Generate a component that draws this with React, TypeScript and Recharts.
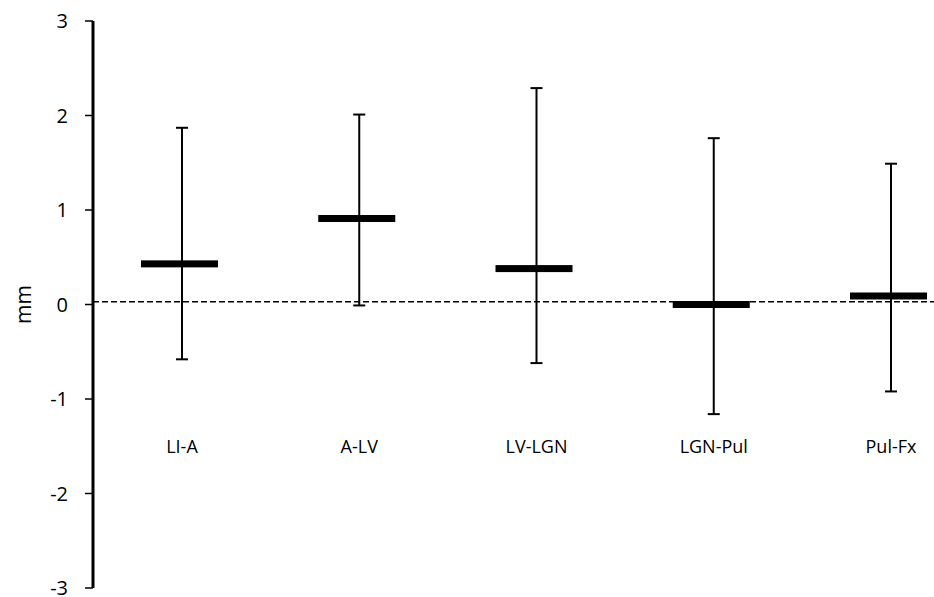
import React from 'react';
import { ComposedChart, Scatter, XAxis, YAxis, ErrorBar, ReferenceLine } from 'recharts';

const categories = ['LI-A', 'A-LV', 'LV-LGN', 'LGN-Pul', 'Pul-Fx'];
const means = [0.43, 0.91, 0.38, 0.0, 0.09];
const upper = [1.87, 2.01, 2.29, 1.76, 1.49];
const lower = [-0.58, -0.01, -0.62, -1.16, -0.92];
const yTicks = [-3, -2, -1, 0, 1, 2, 3];
const refValue = 0.03;

const data = categories.map((c, i) => ({
  name: c,
  mean: means[i],
  err: [means[i] - lower[i], upper[i] - means[i]],
}));

const FONT = '"Open Sans", sans-serif';

const MeanBar = (props: any) => {
  const { cx, cy } = props;
  if (cx == null || cy == null) return null;
  return <rect x={cx - 41} y={cy - 3.5} width={77} height={7} fill="#000" />;
};

const CatTick = (props: any) => {
  const { x, y, payload } = props;
  return (
    <text x={x} y={y - 142} textAnchor="middle" dominantBaseline="central" fontFamily={FONT} fontSize={18} fill="#000">
      {payload.value}
    </text>
  );
};

const YLabel = (props: any) => {
  const vb = props.viewBox || {};
  const x = (vb.x ?? 0) + 23;
  const y = (vb.y ?? 0) + (vb.height ?? 0) / 2;
  return (
    <text x={x} y={y} textAnchor="middle" dominantBaseline="central" transform={`rotate(-90, ${x}, ${y})`} fontFamily={FONT} fontSize={21} fill="#000">
      mm
    </text>
  );
};

export default function App() {
  return (
    <div style={{ position: 'absolute', left: 0, top: 0, width: 934, height: 597, overflow: 'hidden', background: '#fff' }}>
      <ComposedChart width={980} height={597} data={data} margin={{ top: 21, right: 0, bottom: 0, left: 0 }}>
        <XAxis dataKey="name" type="category" height={9} padding={{ left: 89, right: 89 }} axisLine={false} tickLine={false} tickSize={0} tickMargin={0} tick={<CatTick />} interval={0} />
        <YAxis
          type="number"
          domain={[-3, 3]}
          ticks={yTicks}
          interval={0}
          width={93}
          axisLine={{ stroke: '#000', strokeWidth: 3 }}
          tickLine={{ stroke: '#000', strokeWidth: 1.5 }}
          tickSize={8}
          tickMargin={17}
          tick={{ fill: '#000', fontFamily: FONT, fontSize: 20 }}
          label={{ content: <YLabel /> }}
        />
        <ReferenceLine y={refValue} stroke="#000" strokeWidth={1.5} strokeDasharray="6 3" />
        <Scatter dataKey="mean" isAnimationActive={false} shape={<MeanBar />}>
          <ErrorBar dataKey="err" direction="y" width={6} stroke="#000" strokeWidth={2} />
        </Scatter>
      </ComposedChart>
    </div>
  );
}
